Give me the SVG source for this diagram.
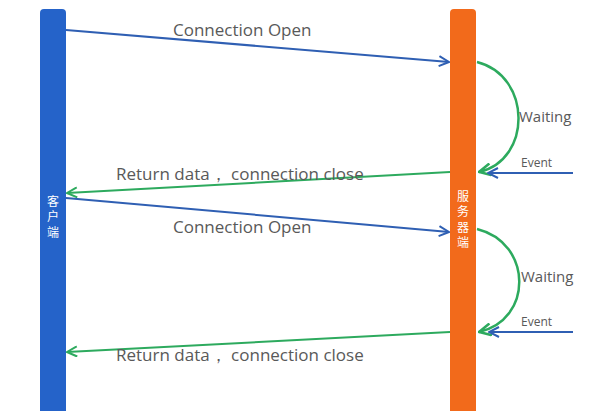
<svg xmlns="http://www.w3.org/2000/svg" width="593" height="411" viewBox="0 0 593 411">
<style>
.lbl{font-family:"Open Sans","Noto Sans",sans-serif;fill:#595959;font-size:17px}
.sm{font-family:"Open Sans","Noto Sans",sans-serif;fill:#595959;font-size:12px}
.wt{font-family:"Open Sans","Noto Sans",sans-serif;fill:#595959;font-size:15px}
.cjk{font-family:"Noto Sans CJK SC",sans-serif;fill:#ffffff;font-size:12px;writing-mode:vertical-rl;letter-spacing:3.5px}
.blue{stroke:#2f5fb3;stroke-width:2;fill:none}
.green{stroke:#2daa5e;stroke-width:2;fill:none}
.garc{stroke:#2daa5e;stroke-width:2.5;fill:none}
</style>
<defs>
<marker id="ab" viewBox="0 0 12 12" refX="11" refY="6" markerWidth="12" markerHeight="12" markerUnits="userSpaceOnUse" orient="auto">
<path d="M1,1 L11,6 L1,11" fill="none" stroke="#2f5fb3" stroke-width="2"/>
</marker>
<marker id="ag" viewBox="0 0 12 12" refX="11" refY="6" markerWidth="12" markerHeight="12" markerUnits="userSpaceOnUse" orient="auto">
<path d="M1,1 L11,6 L1,11" fill="none" stroke="#2daa5e" stroke-width="2"/>
</marker>
<marker id="ag2" viewBox="0 0 14 14" refX="13" refY="7" markerWidth="14" markerHeight="14" markerUnits="userSpaceOnUse" orient="auto">
<path d="M1,1 L13,7 L1,13" fill="none" stroke="#2daa5e" stroke-width="2.5"/>
</marker>
</defs>
<rect width="593" height="411" fill="#ffffff"/>
<g id="client">
<path d="M40,13 Q40,9 44,9 L62,9 Q66,9 66,13 L66,411 L40,411 Z" fill="#2563c9"/>
<text class="cjk" x="53" y="195">客户端</text>
</g>
<g id="server">
<path d="M450,13 Q450,9 454,9 L472,9 Q476,9 476,13 L476,411 L450,411 Z" fill="#f26a1b"/>
<text class="cjk" x="463" y="190">服务器端</text>
</g>
<g id="connectors">
<line class="blue" x1="66" y1="30" x2="449" y2="62" marker-end="url(#ab)"/>
<path class="garc" d="M477,62 C532,76 532,160 479,172" marker-end="url(#ag2)"/>
<line class="blue" x1="573" y1="173" x2="488" y2="173" marker-end="url(#ab)"/>
<line class="green" x1="450" y1="172" x2="67" y2="193" marker-end="url(#ag)"/>
<line class="blue" x1="66" y1="198" x2="449" y2="232" marker-end="url(#ab)"/>
<path class="garc" d="M477,229 C533,243 533,320 479,332" marker-end="url(#ag2)"/>
<line class="blue" x1="573" y1="332" x2="489" y2="332" marker-end="url(#ab)"/>
<line class="green" x1="450" y1="332" x2="67" y2="352" marker-end="url(#ag)"/>
</g>
<g id="labels">
<text class="lbl" x="173" y="36">Connection Open</text>
<text class="wt" x="519" y="122">Waiting</text>
<text class="sm" x="521" y="167">Event</text>
<text class="lbl" x="116" y="180">Return data， connection close</text>
<text class="lbl" x="173" y="233">Connection Open</text>
<text class="wt" x="521" y="282">Waiting</text>
<text class="sm" x="521" y="326">Event</text>
<text class="lbl" x="116" y="361">Return data， connection close</text>
</g>
</svg>
